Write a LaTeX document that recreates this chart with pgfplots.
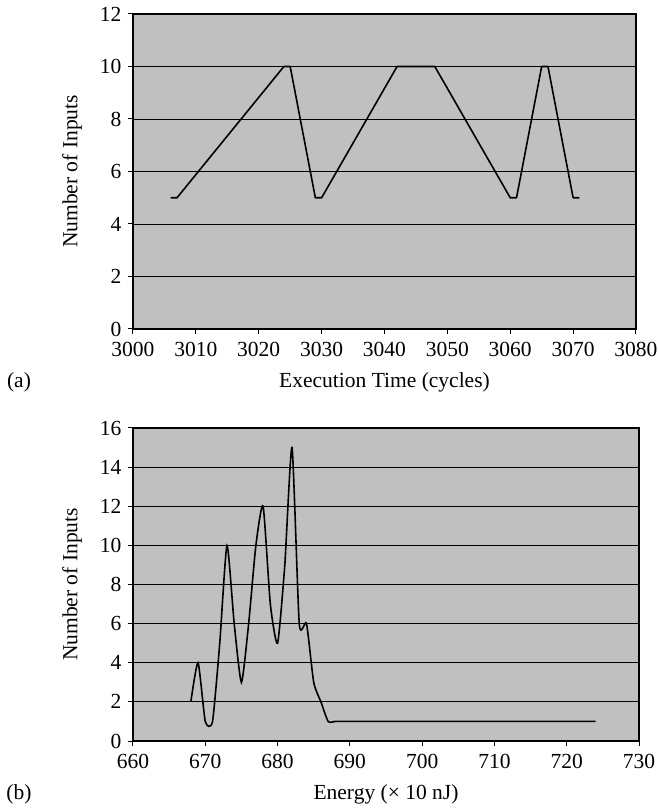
\documentclass[border=0pt]{standalone}
\usepackage{fontspec}
\setmainfont{Liberation Serif}
\usepackage{pgfplots}
\pgfplotsset{compat=1.18}
\definecolor{bggray}{HTML}{C0C0C0}
\pgfplotsset{
  myax/.style={
    scale only axis, anchor=south west,
    axis background/.style={fill=bggray},
    ymajorgrids, grid style={black, line width=0.9pt},
    axis line style={black, line width=1.1pt},
    tick align=outside, xtick pos=bottom, ytick pos=left,
    major tick length=5pt, tick style={black, line width=1pt},
    tick label style={font=\fontsize{21.5}{25}\selectfont},
    xticklabel style={yshift=-5pt},
    yticklabel style={xshift=-3pt},
    label style={font=\fontsize{21.5}{25}\selectfont},
    /pgf/number format/assume math mode=true,
    /pgf/number format/1000 sep={},
    xlabel style={at={([yshift=-53pt]axis description cs:0.5,0)}, anchor=center},
    ylabel style={at={([xshift=-61pt]axis description cs:0,0.5)}, anchor=center},
  }
}
\begin{document}
\begin{tikzpicture}
\useasboundingbox (0,0) rectangle (657pt,809pt);
% (a)
\begin{axis}[myax, at={(133pt,480pt)}, width=503pt, height=315pt,
  xmin=3000, xmax=3080, ymin=0, ymax=12,
  xtick={3000,3010,...,3080}, ytick={0,2,...,12},
  xlabel={Execution Time (cycles)}, ylabel={Number of Inputs}]
\addplot[black, line width=1.6pt, line join=round] coordinates {
 (3006,5) (3007,5) (3024,10) (3025,10) (3029,5) (3030,5)
 (3042,10) (3048,10) (3060,5) (3061,5) (3065,10) (3066,10)
 (3070,5) (3071,5)};
\end{axis}
% (b)
\begin{axis}[myax, at={(133pt,68pt)}, width=506pt, height=313pt,
  xmin=660, xmax=730, ymin=0, ymax=16,
  xtick={660,670,...,730}, ytick={0,2,...,16},
  xlabel={Energy (× 10 nJ)}, ylabel={Number of Inputs}]
\addplot[black, line width=1.6pt, smooth, tension=0.35] coordinates {
 (668,2) (669,4) (670,1) (671,1) (672,5) (673,10) (674,6) (675,3)
 (676,6) (677,10) (678,12) (679,7) (680,5) (681,9) (682,15) (683,6)
 (684,6) (685,3) (686,2) (687,1) (688,1) (690,1) (724,1)};
\end{axis}
\node[font=\fontsize{21.5}{25}\selectfont] at (19pt,427pt) {(a)};
\node[font=\fontsize{21.5}{25}\selectfont] at (19pt,15pt) {(b)};
\end{tikzpicture}
\end{document}
